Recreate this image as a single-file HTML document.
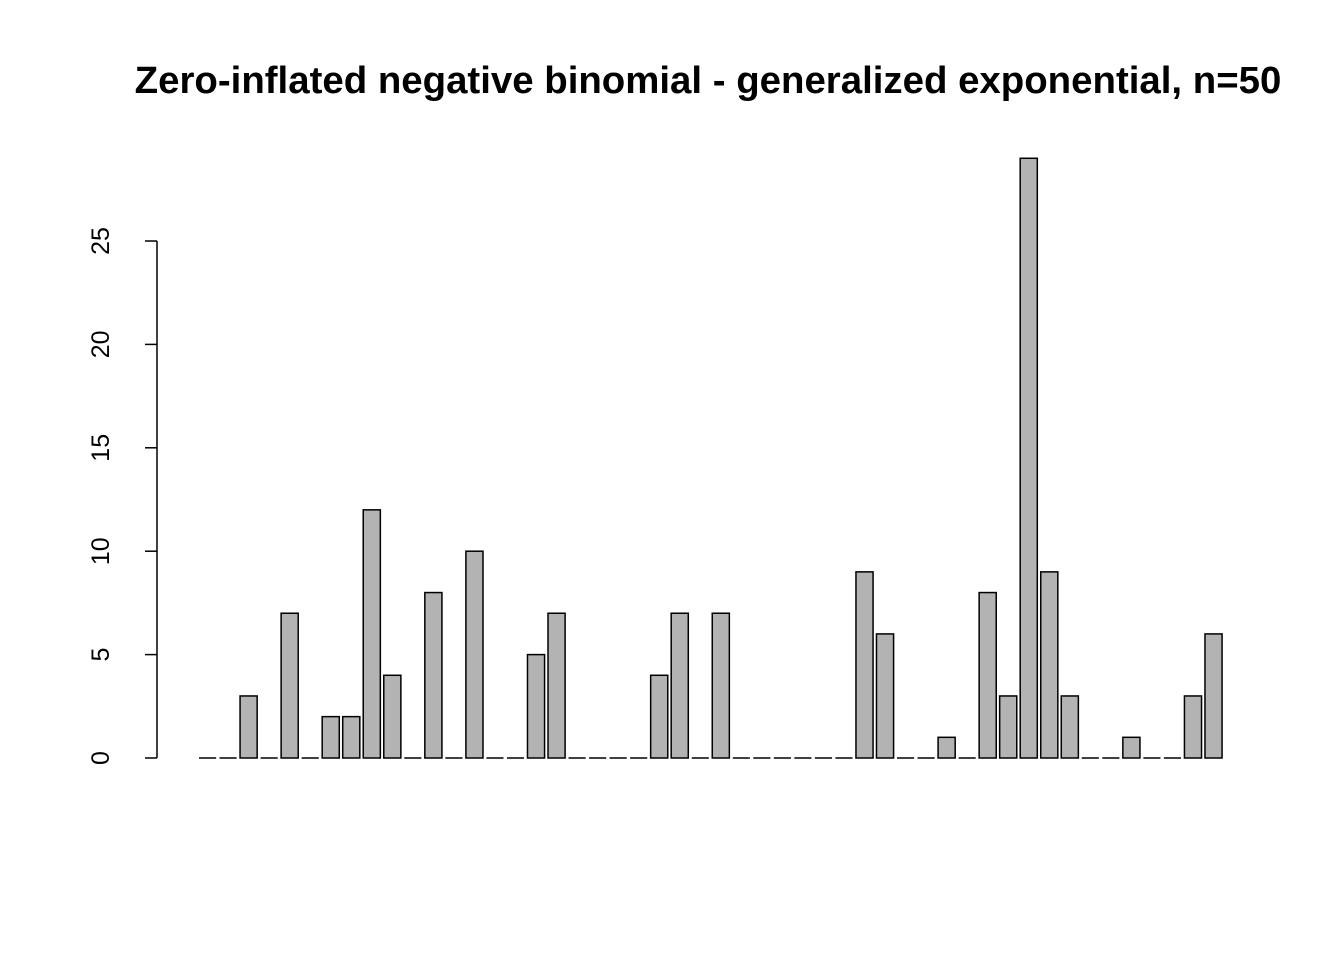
<!DOCTYPE html>
<html><head><style>body{margin:0;background:#fff}</style></head><body>
<svg width="1344" height="960" xmlns="http://www.w3.org/2000/svg" font-family="Liberation Sans, Arial, sans-serif">
<rect width="1344" height="960" fill="#fff"/>
<text x="708" y="93" text-anchor="middle" font-weight="bold" font-size="38.4">Zero-inflated negative binomial - generalized exponential, n=50</text>
<g stroke="#000" stroke-width="1.5">
<line x1="157" y1="241" x2="157" y2="758"/>
<line x1="145" y1="758" x2="157" y2="758"/>
<line x1="145" y1="654.6" x2="157" y2="654.6"/>
<line x1="145" y1="551.2" x2="157" y2="551.2"/>
<line x1="145" y1="447.8" x2="157" y2="447.8"/>
<line x1="145" y1="344.4" x2="157" y2="344.4"/>
<line x1="145" y1="241" x2="157" y2="241"/>
</g>
<g font-size="25" text-anchor="middle">
<text transform="translate(109,758) rotate(-90)">0</text>
<text transform="translate(109,654.6) rotate(-90)">5</text>
<text transform="translate(109,551.2) rotate(-90)">10</text>
<text transform="translate(109,447.8) rotate(-90)">15</text>
<text transform="translate(109,344.4) rotate(-90)">20</text>
<text transform="translate(109,241) rotate(-90)">25</text>
</g>
<path stroke="#000" stroke-width="1.5" fill="none" d="M199,758h17.1M219.53,758h17.1M260.59,758h17.1M301.65,758h17.1M404.3,758h17.1M445.36,758h17.1M486.42,758h17.1M506.95,758h17.1M568.54,758h17.1M589.07,758h17.1M609.6,758h17.1M630.13,758h17.1M691.72,758h17.1M732.78,758h17.1M753.31,758h17.1M773.84,758h17.1M794.37,758h17.1M814.9,758h17.1M835.43,758h17.1M897.02,758h17.1M917.55,758h17.1M958.61,758h17.1M1081.79,758h17.1M1102.32,758h17.1M1143.38,758h17.1M1163.91,758h17.1"/>
<g fill="#b3b3b3" stroke="#000" stroke-width="1.5">
<rect x="240.06" y="695.96" width="17.1" height="62.04"/>
<rect x="281.12" y="613.24" width="17.1" height="144.76"/>
<rect x="322.18" y="716.64" width="17.1" height="41.36"/>
<rect x="342.71" y="716.64" width="17.1" height="41.36"/>
<rect x="363.24" y="509.84" width="17.1" height="248.16"/>
<rect x="383.77" y="675.28" width="17.1" height="82.72"/>
<rect x="424.83" y="592.56" width="17.1" height="165.44"/>
<rect x="465.89" y="551.2" width="17.1" height="206.8"/>
<rect x="527.48" y="654.6" width="17.1" height="103.4"/>
<rect x="548.01" y="613.24" width="17.1" height="144.76"/>
<rect x="650.66" y="675.28" width="17.1" height="82.72"/>
<rect x="671.19" y="613.24" width="17.1" height="144.76"/>
<rect x="712.25" y="613.24" width="17.1" height="144.76"/>
<rect x="855.96" y="571.88" width="17.1" height="186.12"/>
<rect x="876.49" y="633.92" width="17.1" height="124.08"/>
<rect x="938.08" y="737.32" width="17.1" height="20.68"/>
<rect x="979.14" y="592.56" width="17.1" height="165.44"/>
<rect x="999.67" y="695.96" width="17.1" height="62.04"/>
<rect x="1020.2" y="158.28" width="17.1" height="599.72"/>
<rect x="1040.73" y="571.88" width="17.1" height="186.12"/>
<rect x="1061.26" y="695.96" width="17.1" height="62.04"/>
<rect x="1122.85" y="737.32" width="17.1" height="20.68"/>
<rect x="1184.44" y="695.96" width="17.1" height="62.04"/>
<rect x="1204.97" y="633.92" width="17.1" height="124.08"/>
</g>
</svg>
</body></html>
